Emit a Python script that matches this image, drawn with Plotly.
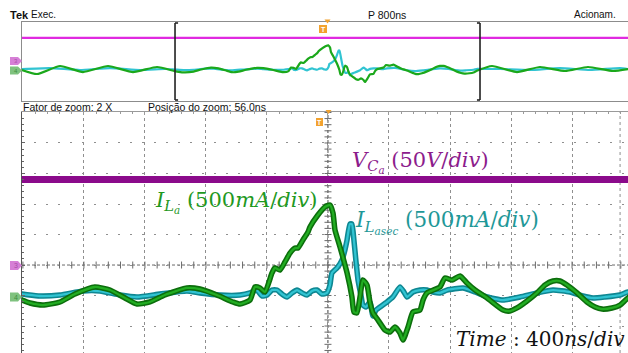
import numpy as np
import plotly.graph_objects as go

W, H = 628, 353

# ---------------- data ----------------
# time in ns (trigger = 0), currents in A, voltage in V
t_il = [-4007, -3810, -3508, -3207, -2879, -2551, -2236,
        -2006, -1954, -1869, -1757, -1659, -1528, -1429, -1331, -1252, -1167, -1069, -925, -839,
        -728, -623, -577, -511, -479, -446, -413, -367, -348, -315, -282, -249, -216, -197, -164,
        -131, -118, -66, -20, 13, 33, 46, 79, 125, 157, 170, 190, 210, 229, 256, 275, 295, 328,
        374, 407, 439, 472, 492, 525, 557, 603, 623, 649, 734, 767, 813, 866, 911, 964, 1043,
        1148, 1193, 1239, 1305, 1370, 1423, 1475, 1521, 1567, 1633, 1698, 1751, 1797, 1862,
        1915, 1967,
        2157, 2485, 2787, 3115, 3416, 3744, 3941]
il = [0, -0.121, 0.121, -0.061, 0.121, -0.061, 0.091,
      -0.033, -0.057, -0.074, -0.049, 0.016, 0.074, 0.049, -0.016, -0.066, -0.049, 0.008, 0.066,
      0.057, 0.008, -0.049, -0.066, -0.033, 0.074, 0.066, 0.033, 0.189, 0.230, 0.213, 0.279,
      0.352, 0.393, 0.393, 0.459, 0.525, 0.566, 0.664, 0.730, 0.746, 0.680, 0.541, 0.402, 0.189,
      -0.008, -0.131, -0.139, -0.008, 0.131, 0.090, -0.049, -0.139, -0.197, -0.279, -0.295,
      -0.254, -0.303, -0.361, -0.254, -0.131, -0.115, -0.033, 0.025, 0.074, 0.148, 0.131, 0.164,
      0.107, 0.049, -0.016, -0.115, -0.123, -0.098, -0.041, 0.025, 0.090, 0.123, 0.123, 0.090,
      0.025, -0.049, -0.090, -0.107, -0.098, -0.074, -0.016,
      0.121, -0.061, 0.091, -0.030, 0.091, -0.030, 0.030]

t_ilsec = [-4007, -3640, -3246, -2853, -2459, -2131,
           -2006, -1888, -1757, -1607, -1495, -1364, -1252, -1102, -925, -839, -708, -577, -511,
           -466, -433, -400, -367, -334, -302, -269, -236, -203, -170, -138, -105, -72, -39, -7,
           13, 26, 59, 92, 111, 125, 144, 157, 170, 184, 197, 216, 229, 249, 275, 295, 315, 341,
           387, 426, 472, 498, 518, 557, 603, 649, 688, 734, 780, 885, 964, 1043, 1148, 1259,
           1370, 1475, 1587, 1672, 1738, 1816, 1915, 1967,
           2262, 2656, 3049, 3443, 3836, 3941]
ilsec = [0.03, 0.06, 0, 0.06, 0, 0.03,
         0.016, 0, 0.008, 0.041, 0.041, 0.008, -0.008, 0.016, 0.041, 0.025, 0.008, 0.008, 0.025,
         0.049, 0, 0.008, 0.049, 0.049, 0.016, -0.008, 0.025, 0.049, 0.025, 0.008, 0.041, 0.049,
         0.016, 0.025, 0.090, 0.189, 0.230, 0.295, 0.377, 0.459, 0.590, 0.590, 0.459, 0.279,
         0.131, 0.008, -0.074, -0.090, -0.049, -0.164, -0.115, -0.090, -0.049, -0.008, 0.074,
         0.033, -0.008, 0.033, 0.049, 0.049, 0.033, 0.025, 0.049, 0.066, 0.033, -0.008, -0.033,
         -0.008, 0.025, 0.049, 0.033, 0, -0.016, -0.008, 0.008, 0.033,
         0.03, 0, 0.06, 0, 0.06, 0.03]

t_vc = [-4007, -3000, -2006, -1200, -400, 0, 200, 600, 1000, 1500, 1967, 3000, 3941]
vc = [70, 70, 70, 70.3, 70, 69.5, 69, 69, 69.3, 69.8, 70, 70, 70]

# axis windows
XR_MAIN = [-2006, 1967]      # ns, 400 ns/div
VR_MAIN = [-72.1, 125.4]     # V, 50 V/div (ch3 reference at 0)
IR_MAIN = [-0.467, 1.508]    # A, 500 mA/div (ch4 reference at 0)
XR_TOP = [-4007, 3941]       # ns, 800 ns/div
VR_TOP = [-121.2, 118.2]
IR_TOP = [-0.939, 1.455]
ZOOM_WIN = [-2000, 2000]

PURPLE, MAGENTA = "#8b0a8b", "#e02ae0"
GREEN_D, GREEN_L = "#0c6e0c", "#22ad22"
CYAN_D, CYAN_L = "#0e8792", "#31c4d2"


def px(x):
    return x / W


def py(y):
    return 1 - y / H


fig = go.Figure()

# ---------------- main (zoomed) window ----------------
# crosshair ticks (graticule decoration)
ht = np.arange(-2000, 2001, 80)
fig.add_trace(go.Scatter(x=ht, y=np.zeros(len(ht)), xaxis="x", yaxis="y",
                         mode="markers", hoverinfo="skip",
                         marker=dict(symbol="line-ns", size=5, line=dict(width=1, color="#6a6a6a"))))
vt = np.arange(-70, 126, 5)
fig.add_trace(go.Scatter(x=np.zeros(len(vt)), y=vt, xaxis="x", yaxis="y", mode="markers",
                         hoverinfo="skip",
                         marker=dict(symbol="line-ew", size=5, line=dict(width=1, color="#6a6a6a"))))

fig.add_trace(go.Scatter(x=t_vc, y=vc, xaxis="x", yaxis="y", mode="lines",
                         line=dict(color=PURPLE, width=7)))

for t, v, cd, cl in [(t_ilsec, ilsec, CYAN_D, CYAN_L), (t_il, il, GREEN_D, GREEN_L)]:
    fig.add_trace(go.Scatter(x=t, y=v, xaxis="x", yaxis="y2", mode="lines",
                             line=dict(color=cd, width=5.5, shape="spline", smoothing=0.5)))
    fig.add_trace(go.Scatter(x=t, y=v, xaxis="x", yaxis="y2", mode="lines",
                             line=dict(color=cl, width=2.3, shape="spline", smoothing=0.5)))

# ---------------- top (overview) window ----------------
fig.add_trace(go.Scatter(x=t_vc, y=vc, xaxis="x2", yaxis="y3", mode="lines",
                         line=dict(color=MAGENTA, width=2.2)))
fig.add_trace(go.Scatter(x=t_ilsec, y=ilsec, xaxis="x2", yaxis="y4", mode="lines",
                         line=dict(color=CYAN_L, width=2.2, shape="spline", smoothing=0.5)))
fig.add_trace(go.Scatter(x=t_il, y=il, xaxis="x2", yaxis="y4", mode="lines",
                         line=dict(color="#1ba81b", width=2.2, shape="spline", smoothing=0.5)))

grid = "#8f8f8f"
fig.update_layout(
    width=W, height=H, margin=dict(l=0, r=0, t=0, b=0),
    paper_bgcolor="white", plot_bgcolor="white", showlegend=False,
    xaxis=dict(domain=[px(22), 1], range=XR_MAIN, anchor="y", side="top", showline=True,
               linecolor="#9a9a9a", ticks="inside", ticklen=3, tickcolor="#9a9a9a",
               tick0=0, dtick=400,
               minor=dict(dtick=80, ticks="inside", ticklen=2, tickcolor="#9a9a9a", showgrid=False),
               showticklabels=False, showgrid=True, gridcolor=grid, gridwidth=1,
               griddash="dot", zeroline=False),
    yaxis=dict(domain=[0, py(112)], range=VR_MAIN, anchor="x", showline=True, linecolor="#555",
               ticks="inside", ticklen=3, tickcolor="#666", tick0=0, dtick=25,
               minor=dict(dtick=5, ticks="inside", ticklen=2, tickcolor="#666", showgrid=False),
               showticklabels=False, showgrid=True, gridcolor=grid, gridwidth=1,
               griddash="2px,10px", zeroline=False),
    yaxis2=dict(overlaying="y", range=IR_MAIN, visible=False, anchor="x"),
    xaxis2=dict(domain=[px(22), 1], range=XR_TOP, anchor="y3", showline=True, mirror=True,
                linecolor="#8c8c8c", showgrid=False, zeroline=False, showticklabels=False,
                ticks=""),
    yaxis3=dict(domain=[py(101), py(22)], range=VR_TOP, anchor="x2", showline=True,
                linecolor="#8c8c8c", showgrid=False, zeroline=False, showticklabels=False,
                ticks=""),
    yaxis4=dict(overlaying="y3", range=IR_TOP, visible=False, anchor="x2"),
)

shapes = []
# crosshair lines
shapes.append(dict(type="line", xref="paper", yref="y", x0=px(22), x1=1, y0=0, y1=0,
                   line=dict(color="#6a6a6a", width=1, dash="3px,2px"), layer="below"))
shapes.append(dict(type="line", xref="x", yref="paper", x0=0, x1=0, y0=0, y1=py(112),
                   line=dict(color="#555", width=1, dash="3px,2px"), layer="below"))
shapes.append(dict(type="line", xref="x", yref="paper", x0=1915, x1=1915, y0=0, y1=py(112),
                   line=dict(color=grid, width=1, dash="dot"), layer="below"))
# zoom bracket in overview
yb0, yb1 = py(100), py(23)
ser = 40
for xb, s in [(ZOOM_WIN[0], 1), (ZOOM_WIN[1], -1)]:
    shapes.append(dict(type="line", xref="x2", yref="paper", x0=xb, x1=xb, y0=yb0, y1=yb1,
                       line=dict(color="#222", width=1.6), layer="above"))
    for yy in (yb0, yb1):
        shapes.append(dict(type="line", xref="x2", yref="paper", x0=xb, x1=xb + s * ser,
                           y0=yy, y1=yy, line=dict(color="#222", width=1.6), layer="above"))


def tag(yc, h, color):
    return dict(type="path", xref="paper", yref="paper",
                path=(f"M {px(10)},{py(yc - h / 2)} L {px(18)},{py(yc - h / 2)} "
                      f"L {px(22)},{py(yc)} L {px(18)},{py(yc + h / 2)} L {px(10)},{py(yc + h / 2)} Z"),
                fillcolor=color, line=dict(width=0), layer="above")


shapes += [tag(265.5, 9, "#d67fd6"), tag(297, 9, "#7fc27f"),
           tag(61, 8, "#d67fd6"), tag(70.5, 8, "#7fc27f")]


def tbox(x0, y0, x1, y1):
    return dict(type="rect", xref="paper", yref="paper", x0=px(x0), x1=px(x1), y0=py(y1),
                y1=py(y0), fillcolor="#f2a22e", line=dict(width=0), layer="above")


def tri(xc, ytop):
    return dict(type="path", xref="paper", yref="paper",
                path=f"M {px(xc - 3)},{py(ytop)} L {px(xc + 3)},{py(ytop)} L {px(xc)},{py(ytop + 4)} Z",
                fillcolor="#f2a22e", line=dict(width=0), layer="above")


shapes += [tbox(316, 118, 323, 126), tri(328.5, 110), tbox(319, 25, 327, 33), tri(327.5, 19.5)]
fig.update_layout(shapes=shapes)

ann = []


def text(x, y, s, size=10, color="#111", family="Liberation Sans", xanchor="left"):
    ann.append(dict(x=px(x), y=py(y), xref="paper", yref="paper", text=s, showarrow=False,
                    xanchor=xanchor, yanchor="middle", borderpad=0,
                    font=dict(size=size, color=color, family=family)))


text(9, 15, "<b>Tek</b>", 11)
text(30, 15, "Exec.", 10)
text(367, 15, "P 800ns", 10.5)
text(573, 15, "Acionam.", 10)
text(22, 107, "Fator de zoom: 2 X", 10.5)
text(147, 107, "Posição do zoom: 56.0ns", 10.5)
text(16, 265.5, "3", 7, "#a64ca6", xanchor="center")
text(16, 297, "4", 7, "#3f8f3f", xanchor="center")
text(16, 61, "3", 6, "#a64ca6", xanchor="center")
text(16, 70.5, "4", 6, "#3f8f3f", xanchor="center")
text(319.5, 122, "<b>T</b>", 7, "white", xanchor="center")
text(323, 29, "<b>T</b>", 7, "white", xanchor="center")

SER = "DejaVu Serif"
text(351, 162, "<i>V</i><sub><i>C<sub>a</sub></i></sub> (50<i>V</i>/<i>div</i>)", 21, "#8c1c8c", SER)
text(154, 202, "<i>I</i><sub><i>L<sub>a</sub></i></sub> (500<i>mA</i>/<i>div</i>)", 21, "#1f991f", SER)
text(354, 222, "<i>I</i><sub><i>L<sub>asec</sub></i></sub> (500<i>mA</i>/<i>div</i>)", 21.5, "#1f9898", SER)
text(455, 339, "<i>Time</i> : 400<i>ns</i>/<i>div</i>", 20, "#111", SER)
fig.update_layout(annotations=ann)

fig.write_html("out.html")
